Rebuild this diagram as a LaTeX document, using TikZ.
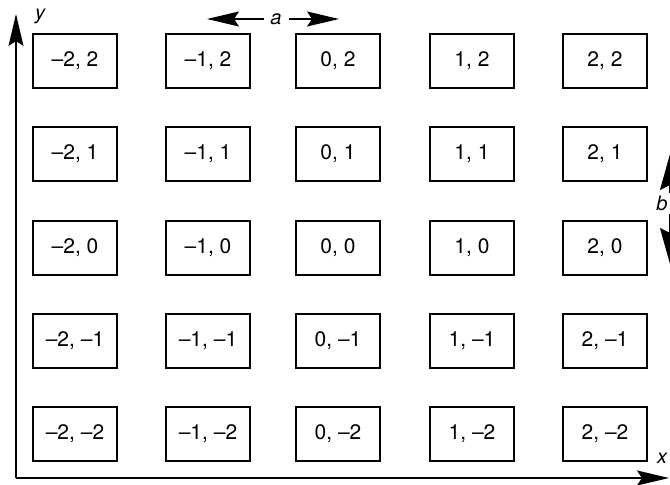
\documentclass[tikz,border=0pt]{standalone}
\usepackage{fontspec}
\setmainfont{TeX Gyre Heros}
\usetikzlibrary{arrows.meta}
\tikzset{
  cell/.style={draw, line width=2.3pt, minimum width=84pt, minimum height=54pt, inner sep=0pt, font=\fontsize{21}{24}\selectfont},
  axis/.style={line width=1.6pt, -{Stealth[length=32pt,width=15pt,inset=5pt]}},
  dimarrow/.style={line width=1.6pt, -{Stealth[length=32pt,width=15pt,inset=5pt]}},
  bdim/.style={line width=1.6pt, -{Stealth[length=36pt,width=20pt,inset=5pt]}},
  lbl/.style={font=\fontsize{20}{24}\selectfont\itshape, inner sep=1pt}
}
\begin{document}
\begin{tikzpicture}[x=1pt,y=-1pt]
\useasboundingbox (0,0) rectangle (670,485);
% axes
\coordinate (O) at (16,478);
\coordinate (Ytip) at (16,14);
\coordinate (Xtip) at (669,478);
\draw[axis] (O) -- (Ytip);
\draw[axis] (O) -- (Xtip);
\node[lbl] (ylab) at (40,16) {y};
\node[lbl] (xlab) at (662,458) {x};
% cells
\foreach \c/\cx/\xl in {1/75/{–2}, 2/208/{–1}, 3/338/0, 4/472/1, 5/605/2}{
  \foreach \r/\cy/\yl in {1/61/2, 2/154/1, 3/248/0, 4/341/{–1}, 5/434/{–2}}{
    \node[cell] (c\c\r) at (\cx,\cy) {\xl, \yl};
  }
}
% a dimension
\node[lbl] (alab) at (276,19) {a};
\coordinate (aL) at (207,19);
\coordinate (aR) at (339,19);
\draw[dimarrow] ([xshift=-5pt]alab.west) -- (aL);
\draw[dimarrow] ([xshift=6pt]alab.east) -- (aR);
% b dimension
\node[lbl] (blab) at (662,203) {b};
\coordinate (bT) at (670,154);
\coordinate (bB) at (670,264);
\draw[bdim] (670,193) -- (bT);
\draw[bdim] (670,214) -- (bB);
\end{tikzpicture}
\end{document}
